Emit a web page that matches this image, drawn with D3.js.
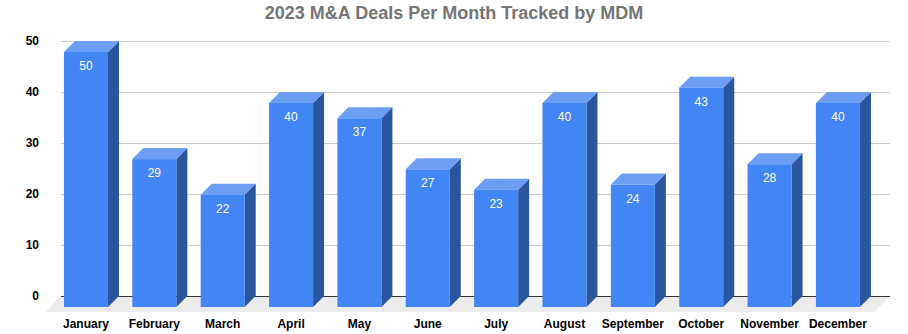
<!DOCTYPE html>
<html><head><meta charset="utf-8">
<script src="https://cdn.jsdelivr.net/npm/d3@7"></script>
<style>body{margin:0;background:#fff;}svg{display:block;font-family:Arial,"Liberation Sans",sans-serif;}</style>
</head><body>
<svg id="c" width="908" height="334"></svg>
<script>
const months = ["January","February","March","April","May","June","July","August","September","October","November","December"];
const deals = [50,29,22,40,37,27,23,40,24,43,28,40];
const yTicks = [0,10,20,30,40,50];
const title = "2023 M&A Deals Per Month Tracked by MDM";

const svg = d3.select("#c");
const D = 11; // 3D depth
const gridLeft = 61, gridRight = 890;
const y = d3.scaleLinear().domain([0,50]).range([296,41]);
const x = d3.scaleBand().domain(months).range([51.8,872.1]).paddingInner(0.356).paddingOuter(0.178);

svg.append("text").attr("x",454).attr("y",19).attr("text-anchor","middle")
  .attr("font-size",18).attr("font-weight","bold").attr("fill","#757575").text(title);

// floor
svg.append("polygon")
  .attr("points",[[gridLeft,y(0)],[gridRight,y(0)],[gridRight-16,y(0)+16],[gridLeft-15,y(0)+16]].map(p=>p.join(",")).join(" "))
  .attr("fill","#ececec");

// gridlines
svg.append("g").selectAll("line").data(yTicks.filter(t=>t>0)).join("line")
  .attr("x1",gridLeft).attr("x2",gridRight).attr("y1",d=>y(d)+0.5).attr("y2",d=>y(d)+0.5)
  .attr("stroke","#cccccc").attr("stroke-width",1);
svg.append("line").attr("x1",gridLeft).attr("x2",gridRight).attr("y1",y(0)+0.5).attr("y2",y(0)+0.5)
  .attr("stroke","#333333").attr("stroke-width",1);

// y axis labels
const yAxis = d3.axisLeft(y).tickValues(yTicks).tickSize(0).tickPadding(0);
const ya = svg.append("g").attr("transform","translate(39,0)").call(yAxis);
ya.select(".domain").remove();
ya.selectAll("text").attr("font-size",12).attr("font-weight","bold").attr("fill","#000")
  .attr("font-family","Arial, 'Liberation Sans', sans-serif");

// bars
const bw = x.bandwidth();
const bars = svg.append("g").selectAll("g").data(months.map((m,i)=>({m,v:deals[i]}))).join("g");
const bottom = y(0)+D;
bars.append("polygon").attr("fill","#2a56a0")
  .attr("points",d=>{const fx=x(d.m), ft=y(d.v)+D;return [[fx+bw,ft],[fx+bw+D,ft-D],[fx+bw+D,y(0)],[fx+bw,bottom]].map(p=>p.join(",")).join(" ");});
bars.append("polygon").attr("fill","#6c9ef6")
  .attr("points",d=>{const fx=x(d.m), ft=y(d.v)+D;return [[fx,ft],[fx+D,ft-D],[fx+bw+D,ft-D],[fx+bw,ft]].map(p=>p.join(",")).join(" ");});
bars.append("rect").attr("fill","#4285f4")
  .attr("x",d=>x(d.m)).attr("y",d=>y(d.v)+D).attr("width",bw).attr("height",d=>bottom-(y(d.v)+D));
bars.append("text").attr("x",d=>x(d.m)+bw/2).attr("y",d=>y(d.v)+D+18)
  .attr("text-anchor","middle").attr("font-size",12).attr("fill","#fff").text(d=>d.v);

// x axis labels
const xAxis = d3.axisBottom(x).tickSize(0).tickPadding(0);
const xa = svg.append("g").attr("transform","translate(0,319)").call(xAxis);
xa.select(".domain").remove();
xa.selectAll("text").attr("font-size",12).attr("font-weight","bold").attr("fill","#000")
  .attr("font-family","Arial, 'Liberation Sans', sans-serif").attr("dy","0.71em");
</script>
</body></html>
